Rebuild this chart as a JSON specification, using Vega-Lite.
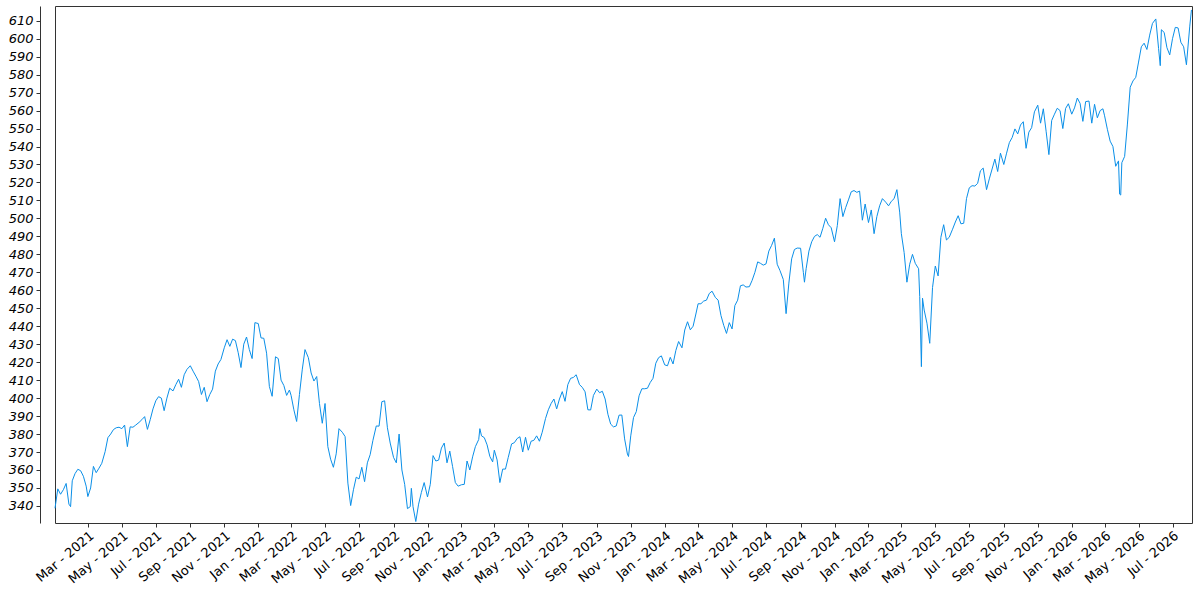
{
  "$schema": "https://vega.github.io/schema/vega-lite/v6.json",
  "width": 1137,
  "height": 517,
  "autosize": {"type": "none"},
  "padding": {"left": 55, "top": 6, "right": 8, "bottom": 77},
  "config": {"view": {"stroke": "#333333", "strokeWidth": 1}, "font": "DejaVu Sans"},
  "data": {"values": [
    {"date": "2021-01-01", "value": 338.7}, {"date": "2021-01-06", "value": 349.5}, {"date": "2021-01-11", "value": 346.5}, {"date": "2021-01-16", "value": 349}, {"date": "2021-01-21", "value": 352.5}, {"date": "2021-01-26", "value": 341}, {"date": "2021-01-29", "value": 339.6},
    {"date": "2021-02-01", "value": 354}, {"date": "2021-02-06", "value": 358}, {"date": "2021-02-11", "value": 360.4}, {"date": "2021-02-16", "value": 359.6}, {"date": "2021-02-21", "value": 356.5}, {"date": "2021-02-26", "value": 351},
    {"date": "2021-03-01", "value": 345.2}, {"date": "2021-03-06", "value": 350}, {"date": "2021-03-11", "value": 362}, {"date": "2021-03-16", "value": 358.5}, {"date": "2021-03-21", "value": 361}, {"date": "2021-03-26", "value": 363.7},
    {"date": "2021-04-01", "value": 370.2}, {"date": "2021-04-06", "value": 378}, {"date": "2021-04-11", "value": 380}, {"date": "2021-04-16", "value": 382.5}, {"date": "2021-04-21", "value": 383.5}, {"date": "2021-04-26", "value": 383.8},
    {"date": "2021-05-01", "value": 383}, {"date": "2021-05-06", "value": 385}, {"date": "2021-05-11", "value": 373}, {"date": "2021-05-16", "value": 384}, {"date": "2021-05-21", "value": 383.8}, {"date": "2021-05-26", "value": 385},
    {"date": "2021-06-01", "value": 386.5}, {"date": "2021-06-06", "value": 388}, {"date": "2021-06-11", "value": 389.7}, {"date": "2021-06-16", "value": 382.6}, {"date": "2021-06-21", "value": 388}, {"date": "2021-06-26", "value": 394},
    {"date": "2021-07-01", "value": 398.5}, {"date": "2021-07-06", "value": 400.8}, {"date": "2021-07-11", "value": 400}, {"date": "2021-07-16", "value": 393}, {"date": "2021-07-21", "value": 400}, {"date": "2021-07-26", "value": 405.5},
    {"date": "2021-08-01", "value": 404}, {"date": "2021-08-06", "value": 407.5}, {"date": "2021-08-11", "value": 410.5}, {"date": "2021-08-16", "value": 406}, {"date": "2021-08-21", "value": 413}, {"date": "2021-08-26", "value": 416},
    {"date": "2021-09-01", "value": 418}, {"date": "2021-09-06", "value": 415}, {"date": "2021-09-11", "value": 412.2}, {"date": "2021-09-16", "value": 409.2}, {"date": "2021-09-21", "value": 402}, {"date": "2021-09-26", "value": 406},
    {"date": "2021-10-01", "value": 398}, {"date": "2021-10-06", "value": 402}, {"date": "2021-10-11", "value": 405}, {"date": "2021-10-16", "value": 415}, {"date": "2021-10-21", "value": 419}, {"date": "2021-10-26", "value": 421.5},
    {"date": "2021-11-01", "value": 428}, {"date": "2021-11-06", "value": 432.5}, {"date": "2021-11-11", "value": 428.8}, {"date": "2021-11-16", "value": 432.8}, {"date": "2021-11-21", "value": 432}, {"date": "2021-11-26", "value": 425.3},
    {"date": "2021-12-01", "value": 417}, {"date": "2021-12-06", "value": 430}, {"date": "2021-12-11", "value": 434}, {"date": "2021-12-16", "value": 427}, {"date": "2021-12-21", "value": 422}, {"date": "2021-12-26", "value": 442},
    {"date": "2022-01-01", "value": 441.5}, {"date": "2022-01-06", "value": 433.5}, {"date": "2022-01-11", "value": 433.3}, {"date": "2022-01-16", "value": 425}, {"date": "2022-01-21", "value": 406.5}, {"date": "2022-01-26", "value": 401},
    {"date": "2022-02-01", "value": 423}, {"date": "2022-02-06", "value": 422}, {"date": "2022-02-11", "value": 410}, {"date": "2022-02-16", "value": 407}, {"date": "2022-02-21", "value": 401.5}, {"date": "2022-02-26", "value": 404.5},
    {"date": "2022-03-01", "value": 401.5}, {"date": "2022-03-06", "value": 393.5}, {"date": "2022-03-11", "value": 387}, {"date": "2022-03-16", "value": 402}, {"date": "2022-03-21", "value": 415.7}, {"date": "2022-03-26", "value": 427},
    {"date": "2022-04-01", "value": 422.5}, {"date": "2022-04-06", "value": 414}, {"date": "2022-04-11", "value": 409.5}, {"date": "2022-04-16", "value": 412}, {"date": "2022-04-21", "value": 397}, {"date": "2022-04-26", "value": 386},
    {"date": "2022-05-01", "value": 397}, {"date": "2022-05-06", "value": 373}, {"date": "2022-05-11", "value": 366}, {"date": "2022-05-16", "value": 361.5}, {"date": "2022-05-21", "value": 369}, {"date": "2022-05-26", "value": 383},
    {"date": "2022-06-01", "value": 381}, {"date": "2022-06-06", "value": 378.6}, {"date": "2022-06-11", "value": 352.7}, {"date": "2022-06-16", "value": 340.2}, {"date": "2022-06-21", "value": 349}, {"date": "2022-06-26", "value": 356},
    {"date": "2022-07-01", "value": 355}, {"date": "2022-07-06", "value": 361.5}, {"date": "2022-07-11", "value": 353.5}, {"date": "2022-07-16", "value": 364}, {"date": "2022-07-21", "value": 368.5}, {"date": "2022-07-26", "value": 376.5},
    {"date": "2022-08-01", "value": 384.5}, {"date": "2022-08-06", "value": 384.4}, {"date": "2022-08-11", "value": 398}, {"date": "2022-08-16", "value": 398.5}, {"date": "2022-08-21", "value": 383.5}, {"date": "2022-08-26", "value": 375},
    {"date": "2022-09-01", "value": 367}, {"date": "2022-09-06", "value": 364}, {"date": "2022-09-11", "value": 380}, {"date": "2022-09-16", "value": 360}, {"date": "2022-09-21", "value": 352}, {"date": "2022-09-26", "value": 338.5},
    {"date": "2022-10-01", "value": 339.6}, {"date": "2022-10-03", "value": 349.8}, {"date": "2022-10-06", "value": 339.6}, {"date": "2022-10-11", "value": 331.3}, {"date": "2022-10-16", "value": 341}, {"date": "2022-10-21", "value": 347.5}, {"date": "2022-10-26", "value": 353},
    {"date": "2022-11-01", "value": 345}, {"date": "2022-11-06", "value": 352}, {"date": "2022-11-11", "value": 368}, {"date": "2022-11-16", "value": 365}, {"date": "2022-11-21", "value": 365.5}, {"date": "2022-11-26", "value": 372.2},
    {"date": "2022-12-01", "value": 375}, {"date": "2022-12-06", "value": 364}, {"date": "2022-12-11", "value": 370.5}, {"date": "2022-12-16", "value": 362}, {"date": "2022-12-21", "value": 353}, {"date": "2022-12-26", "value": 351},
    {"date": "2023-01-01", "value": 351.8}, {"date": "2023-01-06", "value": 352}, {"date": "2023-01-11", "value": 365}, {"date": "2023-01-16", "value": 360}, {"date": "2023-01-21", "value": 367.3}, {"date": "2023-01-26", "value": 373},
    {"date": "2023-02-01", "value": 377}, {"date": "2023-02-03", "value": 383}, {"date": "2023-02-06", "value": 379}, {"date": "2023-02-11", "value": 378}, {"date": "2023-02-16", "value": 374}, {"date": "2023-02-21", "value": 367.5}, {"date": "2023-02-26", "value": 364.5},
    {"date": "2023-03-01", "value": 371}, {"date": "2023-03-06", "value": 365.6}, {"date": "2023-03-11", "value": 353}, {"date": "2023-03-16", "value": 360.5}, {"date": "2023-03-21", "value": 360.5}, {"date": "2023-03-26", "value": 367},
    {"date": "2023-04-01", "value": 374.5}, {"date": "2023-04-06", "value": 375.2}, {"date": "2023-04-11", "value": 377.5}, {"date": "2023-04-16", "value": 378.5}, {"date": "2023-04-21", "value": 370}, {"date": "2023-04-26", "value": 378.2},
    {"date": "2023-05-01", "value": 371}, {"date": "2023-05-06", "value": 376}, {"date": "2023-05-11", "value": 376.5}, {"date": "2023-05-16", "value": 379}, {"date": "2023-05-21", "value": 376}, {"date": "2023-05-26", "value": 381},
    {"date": "2023-06-01", "value": 388.7}, {"date": "2023-06-06", "value": 393.5}, {"date": "2023-06-11", "value": 397}, {"date": "2023-06-16", "value": 399.5}, {"date": "2023-06-21", "value": 394}, {"date": "2023-06-26", "value": 399.5},
    {"date": "2023-07-01", "value": 403.6}, {"date": "2023-07-06", "value": 398.2}, {"date": "2023-07-11", "value": 407.5}, {"date": "2023-07-16", "value": 411}, {"date": "2023-07-21", "value": 411.5}, {"date": "2023-07-26", "value": 413},
    {"date": "2023-08-01", "value": 407.5}, {"date": "2023-08-06", "value": 406}, {"date": "2023-08-11", "value": 403.5}, {"date": "2023-08-16", "value": 393.5}, {"date": "2023-08-21", "value": 393.4}, {"date": "2023-08-26", "value": 401.5},
    {"date": "2023-09-01", "value": 405}, {"date": "2023-09-06", "value": 403}, {"date": "2023-09-11", "value": 403.8}, {"date": "2023-09-16", "value": 399.5}, {"date": "2023-09-21", "value": 391}, {"date": "2023-09-26", "value": 385.5},
    {"date": "2023-10-01", "value": 384}, {"date": "2023-10-06", "value": 384.5}, {"date": "2023-10-11", "value": 390.5}, {"date": "2023-10-16", "value": 390.6}, {"date": "2023-10-21", "value": 377.3}, {"date": "2023-10-26", "value": 368.9}, {"date": "2023-10-28", "value": 367.5},
    {"date": "2023-11-01", "value": 379}, {"date": "2023-11-06", "value": 389.2}, {"date": "2023-11-11", "value": 392.5}, {"date": "2023-11-16", "value": 401.3}, {"date": "2023-11-21", "value": 405.2}, {"date": "2023-11-26", "value": 405.2},
    {"date": "2023-12-01", "value": 405.5}, {"date": "2023-12-06", "value": 408.7}, {"date": "2023-12-11", "value": 411}, {"date": "2023-12-16", "value": 419.4}, {"date": "2023-12-21", "value": 422.5}, {"date": "2023-12-26", "value": 423.5},
    {"date": "2024-01-01", "value": 418.5}, {"date": "2024-01-06", "value": 418}, {"date": "2024-01-11", "value": 422.7}, {"date": "2024-01-16", "value": 419}, {"date": "2024-01-21", "value": 426.5}, {"date": "2024-01-26", "value": 431.5},
    {"date": "2024-02-01", "value": 428}, {"date": "2024-02-06", "value": 437.9}, {"date": "2024-02-11", "value": 442.5}, {"date": "2024-02-16", "value": 438}, {"date": "2024-02-21", "value": 440}, {"date": "2024-02-26", "value": 446.8},
    {"date": "2024-03-01", "value": 452.5}, {"date": "2024-03-06", "value": 452.5}, {"date": "2024-03-11", "value": 454}, {"date": "2024-03-16", "value": 454.5}, {"date": "2024-03-21", "value": 458.2}, {"date": "2024-03-26", "value": 459.5},
    {"date": "2024-04-01", "value": 456}, {"date": "2024-04-06", "value": 454.5}, {"date": "2024-04-11", "value": 446}, {"date": "2024-04-16", "value": 440.5}, {"date": "2024-04-21", "value": 436}, {"date": "2024-04-26", "value": 442},
    {"date": "2024-05-01", "value": 438.5}, {"date": "2024-05-06", "value": 451.5}, {"date": "2024-05-11", "value": 454.5}, {"date": "2024-05-16", "value": 462.5}, {"date": "2024-05-21", "value": 463}, {"date": "2024-05-26", "value": 461.8},
    {"date": "2024-06-01", "value": 462}, {"date": "2024-06-06", "value": 465.5}, {"date": "2024-06-11", "value": 470}, {"date": "2024-06-16", "value": 475.8}, {"date": "2024-06-21", "value": 475}, {"date": "2024-06-26", "value": 474},
    {"date": "2024-07-01", "value": 474.7}, {"date": "2024-07-06", "value": 481.8}, {"date": "2024-07-11", "value": 485}, {"date": "2024-07-16", "value": 489}, {"date": "2024-07-21", "value": 474.5}, {"date": "2024-07-26", "value": 471},
    {"date": "2024-08-01", "value": 466}, {"date": "2024-08-06", "value": 447}, {"date": "2024-08-11", "value": 464}, {"date": "2024-08-16", "value": 477.5}, {"date": "2024-08-21", "value": 482.7}, {"date": "2024-08-26", "value": 483.5},
    {"date": "2024-09-01", "value": 483.4}, {"date": "2024-09-06", "value": 470}, {"date": "2024-09-08", "value": 464.5}, {"date": "2024-09-11", "value": 472}, {"date": "2024-09-16", "value": 481.8}, {"date": "2024-09-21", "value": 487}, {"date": "2024-09-26", "value": 490},
    {"date": "2024-10-01", "value": 491}, {"date": "2024-10-06", "value": 489.5}, {"date": "2024-10-11", "value": 494.5}, {"date": "2024-10-16", "value": 500.1}, {"date": "2024-10-21", "value": 496.5}, {"date": "2024-10-26", "value": 494.8},
    {"date": "2024-11-01", "value": 487}, {"date": "2024-11-06", "value": 496}, {"date": "2024-11-11", "value": 511}, {"date": "2024-11-16", "value": 501}, {"date": "2024-11-21", "value": 506}, {"date": "2024-11-26", "value": 510.3},
    {"date": "2024-12-01", "value": 514.8}, {"date": "2024-12-06", "value": 515.5}, {"date": "2024-12-11", "value": 514.5}, {"date": "2024-12-16", "value": 515.2}, {"date": "2024-12-21", "value": 499}, {"date": "2024-12-26", "value": 508},
    {"date": "2025-01-01", "value": 497.7}, {"date": "2025-01-06", "value": 504.7}, {"date": "2025-01-11", "value": 491.5}, {"date": "2025-01-16", "value": 501}, {"date": "2025-01-21", "value": 507}, {"date": "2025-01-26", "value": 511},
    {"date": "2025-02-01", "value": 509}, {"date": "2025-02-06", "value": 507}, {"date": "2025-02-11", "value": 509.5}, {"date": "2025-02-16", "value": 511}, {"date": "2025-02-21", "value": 516}, {"date": "2025-02-26", "value": 503.5},
    {"date": "2025-03-01", "value": 491.5}, {"date": "2025-03-06", "value": 481}, {"date": "2025-03-11", "value": 464.5}, {"date": "2025-03-16", "value": 474.5}, {"date": "2025-03-21", "value": 480}, {"date": "2025-03-26", "value": 475},
    {"date": "2025-04-01", "value": 472}, {"date": "2025-04-03", "value": 456.5}, {"date": "2025-04-06", "value": 417.5}, {"date": "2025-04-08", "value": 455.6}, {"date": "2025-04-11", "value": 449}, {"date": "2025-04-16", "value": 441.7}, {"date": "2025-04-21", "value": 430.5}, {"date": "2025-04-26", "value": 461.5},
    {"date": "2025-05-01", "value": 473.5}, {"date": "2025-05-06", "value": 468}, {"date": "2025-05-11", "value": 489.5}, {"date": "2025-05-16", "value": 496.5}, {"date": "2025-05-21", "value": 488}, {"date": "2025-05-26", "value": 489.5},
    {"date": "2025-06-01", "value": 494}, {"date": "2025-06-06", "value": 498}, {"date": "2025-06-11", "value": 501.5}, {"date": "2025-06-16", "value": 497}, {"date": "2025-06-21", "value": 497.3}, {"date": "2025-06-26", "value": 511},
    {"date": "2025-07-01", "value": 517}, {"date": "2025-07-06", "value": 518.2}, {"date": "2025-07-11", "value": 518}, {"date": "2025-07-16", "value": 519.5}, {"date": "2025-07-21", "value": 526.5}, {"date": "2025-07-26", "value": 528},
    {"date": "2025-08-01", "value": 516}, {"date": "2025-08-06", "value": 522}, {"date": "2025-08-11", "value": 527.5}, {"date": "2025-08-16", "value": 533}, {"date": "2025-08-21", "value": 526.1}, {"date": "2025-08-26", "value": 536.3},
    {"date": "2025-09-01", "value": 530}, {"date": "2025-09-06", "value": 536.3}, {"date": "2025-09-11", "value": 542.2}, {"date": "2025-09-16", "value": 545}, {"date": "2025-09-21", "value": 549.8}, {"date": "2025-09-26", "value": 547},
    {"date": "2025-10-01", "value": 552}, {"date": "2025-10-06", "value": 553.8}, {"date": "2025-10-11", "value": 539}, {"date": "2025-10-16", "value": 548}, {"date": "2025-10-21", "value": 550.5}, {"date": "2025-10-26", "value": 559.3},
    {"date": "2025-11-01", "value": 563}, {"date": "2025-11-06", "value": 553}, {"date": "2025-11-11", "value": 561}, {"date": "2025-11-16", "value": 548.5}, {"date": "2025-11-21", "value": 535.5}, {"date": "2025-11-26", "value": 554.5},
    {"date": "2025-12-01", "value": 558}, {"date": "2025-12-06", "value": 561.3}, {"date": "2025-12-11", "value": 560}, {"date": "2025-12-16", "value": 550}, {"date": "2025-12-21", "value": 561.2}, {"date": "2025-12-26", "value": 563.8},
    {"date": "2026-01-01", "value": 558}, {"date": "2026-01-06", "value": 561.5}, {"date": "2026-01-11", "value": 567}, {"date": "2026-01-16", "value": 564}, {"date": "2026-01-21", "value": 554}, {"date": "2026-01-26", "value": 565},
    {"date": "2026-02-01", "value": 565.3}, {"date": "2026-02-06", "value": 553}, {"date": "2026-02-11", "value": 563.5}, {"date": "2026-02-16", "value": 556}, {"date": "2026-02-21", "value": 560}, {"date": "2026-02-26", "value": 561},
    {"date": "2026-03-01", "value": 557.1}, {"date": "2026-03-06", "value": 549.6}, {"date": "2026-03-11", "value": 543}, {"date": "2026-03-16", "value": 540}, {"date": "2026-03-21", "value": 529}, {"date": "2026-03-26", "value": 532}, {"date": "2026-03-28", "value": 513.5}, {"date": "2026-03-30", "value": 513},
    {"date": "2026-04-01", "value": 531}, {"date": "2026-04-06", "value": 534.5}, {"date": "2026-04-11", "value": 552.5}, {"date": "2026-04-16", "value": 573}, {"date": "2026-04-21", "value": 576.5}, {"date": "2026-04-26", "value": 578.5},
    {"date": "2026-05-01", "value": 587}, {"date": "2026-05-06", "value": 595.5}, {"date": "2026-05-11", "value": 597.5}, {"date": "2026-05-16", "value": 594}, {"date": "2026-05-21", "value": 602}, {"date": "2026-05-26", "value": 608.5},
    {"date": "2026-06-01", "value": 611}, {"date": "2026-06-06", "value": 594.5}, {"date": "2026-06-09", "value": 585}, {"date": "2026-06-11", "value": 605}, {"date": "2026-06-16", "value": 603.5}, {"date": "2026-06-21", "value": 595}, {"date": "2026-06-26", "value": 591},
    {"date": "2026-07-01", "value": 600}, {"date": "2026-07-06", "value": 606.3}, {"date": "2026-07-11", "value": 606}, {"date": "2026-07-16", "value": 598}, {"date": "2026-07-21", "value": 595.5}, {"date": "2026-07-26", "value": 585.5},
    {"date": "2026-08-01", "value": 607}, {"date": "2026-08-04", "value": 616}
  ]},
  "mark": {"type": "line", "color": "#0a8fe8", "strokeWidth": 1},
  "encoding": {
    "x": {
      "field": "date",
      "type": "temporal",
      "scale": {
        "type": "utc",
        "domain": [
          {"year": 2021, "month": 1, "date": 1, "utc": true},
          {"year": 2026, "month": 8, "date": 5, "utc": true}
        ]
      },
      "axis": {
        "title": null,
        "grid": false,
        "domain": false,
        "values": [
          {"year": 2021, "month": 3, "date": 1, "utc": true}, {"year": 2021, "month": 5, "date": 1, "utc": true},
          {"year": 2021, "month": 7, "date": 1, "utc": true}, {"year": 2021, "month": 9, "date": 1, "utc": true},
          {"year": 2021, "month": 11, "date": 1, "utc": true}, {"year": 2022, "month": 1, "date": 1, "utc": true},
          {"year": 2022, "month": 3, "date": 1, "utc": true}, {"year": 2022, "month": 5, "date": 1, "utc": true},
          {"year": 2022, "month": 7, "date": 1, "utc": true}, {"year": 2022, "month": 9, "date": 1, "utc": true},
          {"year": 2022, "month": 11, "date": 1, "utc": true}, {"year": 2023, "month": 1, "date": 1, "utc": true},
          {"year": 2023, "month": 3, "date": 1, "utc": true}, {"year": 2023, "month": 5, "date": 1, "utc": true},
          {"year": 2023, "month": 7, "date": 1, "utc": true}, {"year": 2023, "month": 9, "date": 1, "utc": true},
          {"year": 2023, "month": 11, "date": 1, "utc": true}, {"year": 2024, "month": 1, "date": 1, "utc": true},
          {"year": 2024, "month": 3, "date": 1, "utc": true}, {"year": 2024, "month": 5, "date": 1, "utc": true},
          {"year": 2024, "month": 7, "date": 1, "utc": true}, {"year": 2024, "month": 9, "date": 1, "utc": true},
          {"year": 2024, "month": 11, "date": 1, "utc": true}, {"year": 2025, "month": 1, "date": 1, "utc": true},
          {"year": 2025, "month": 3, "date": 1, "utc": true}, {"year": 2025, "month": 5, "date": 1, "utc": true},
          {"year": 2025, "month": 7, "date": 1, "utc": true}, {"year": 2025, "month": 9, "date": 1, "utc": true},
          {"year": 2025, "month": 11, "date": 1, "utc": true}, {"year": 2026, "month": 1, "date": 1, "utc": true},
          {"year": 2026, "month": 3, "date": 1, "utc": true}, {"year": 2026, "month": 5, "date": 1, "utc": true},
          {"year": 2026, "month": 7, "date": 1, "utc": true}
        ],
        "labelExpr": "utcFormat(datum.value, '%b - %Y')",
        "labelAngle": -40,
        "labelAlign": "right",
        "labelBaseline": "top",
        "labelOverlap": false,
        "labelFontSize": 13,
        "labelColor": "#000000",
        "labelPadding": 2,
        "tickSize": 4,
        "tickColor": "#333333"
      }
    },
    "y": {
      "field": "value",
      "type": "quantitative",
      "scale": {"domain": [330.5, 618.2], "nice": false, "zero": false},
      "axis": {
        "title": null,
        "grid": false,
        "offset": 15,
        "values": [340, 350, 360, 370, 380, 390, 400, 410, 420, 430, 440, 450, 460, 470, 480, 490, 500, 510, 520, 530, 540, 550, 560, 570, 580, 590, 600, 610],
        "domainColor": "#333333",
        "tickColor": "#333333",
        "tickSize": 4,
        "labelFontSize": 13,
        "labelFontStyle": "italic",
        "labelColor": "#000000",
        "labelPadding": 3
      }
    }
  }
}
